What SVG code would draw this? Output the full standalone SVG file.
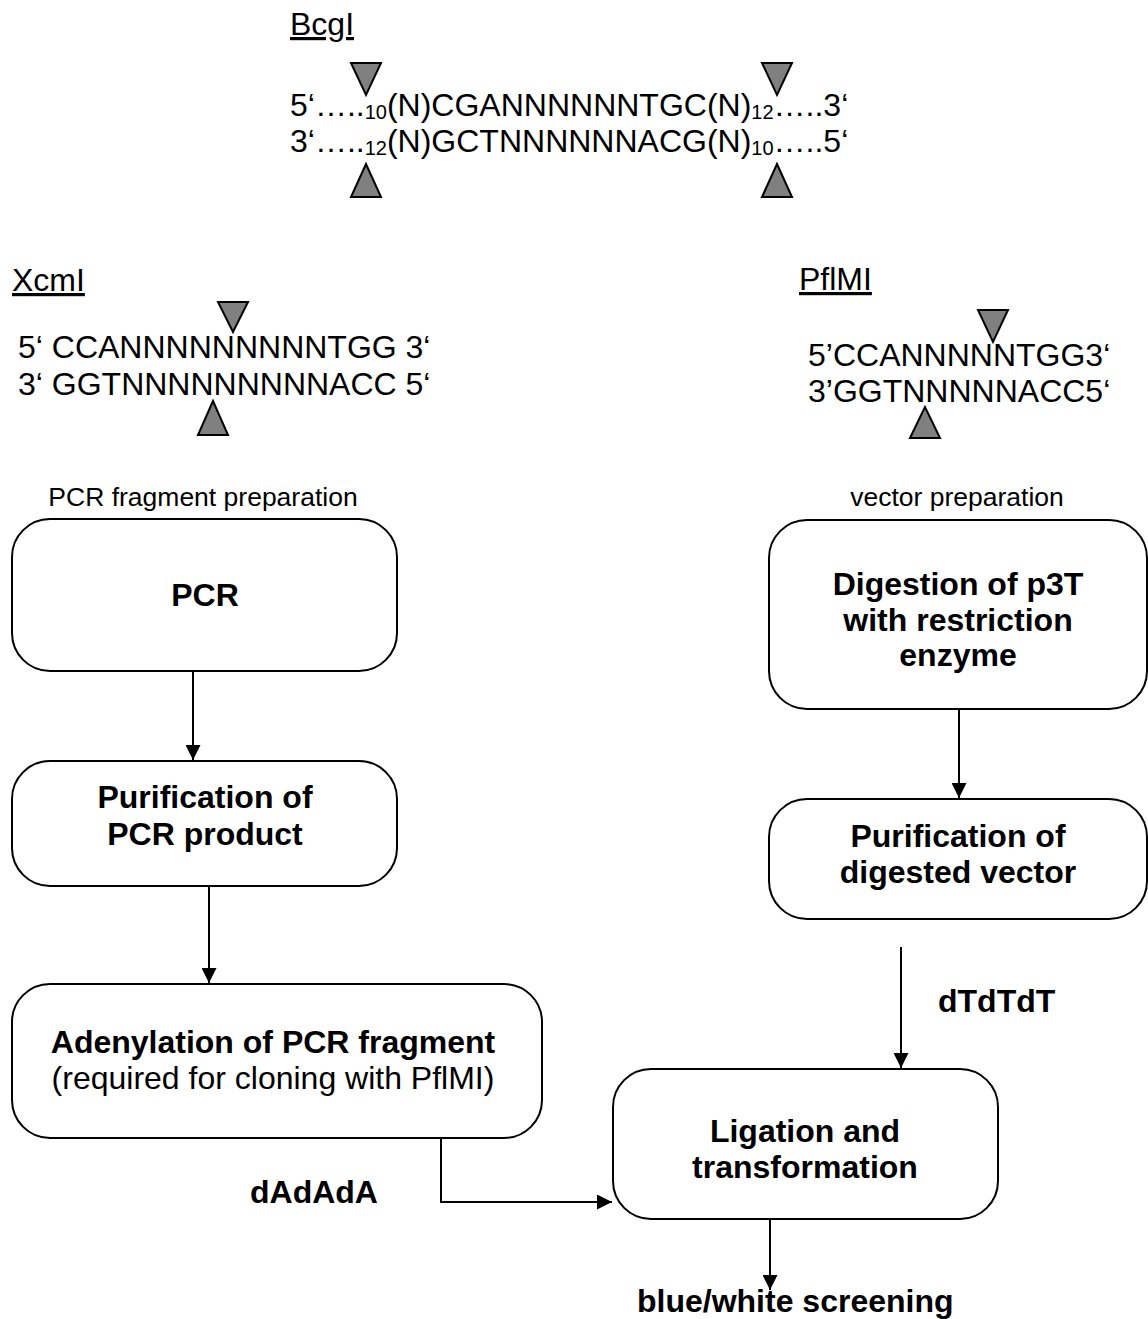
<svg xmlns="http://www.w3.org/2000/svg" width="1148" height="1319" viewBox="0 0 1148 1319">
<style>
text{font-family:"Liberation Sans",Arial,sans-serif;fill:#000}
.s{font-size:32px}
.b{font-size:32px;font-weight:bold}
.h{font-size:26.5px}
.u{text-decoration:underline}
.sub{font-size:20px}
.box{fill:#fff;stroke:#000;stroke-width:2}
.tri{fill:#808080;stroke:#000;stroke-width:2;stroke-linejoin:miter}
.conn{fill:none;stroke:#000;stroke-width:2}
</style>
<defs>
<marker id="ah" viewBox="0 0 10 10" refX="10" refY="5" markerWidth="7.5" markerHeight="7.5" markerUnits="strokeWidth" orient="auto">
<path d="M0,0 L10,5 L0,10 z" fill="#000"/>
</marker>
</defs>
<rect width="1148" height="1319" fill="#fff"/>

<g id="bcgi">
<text class="s u" x="290" y="35">BcgI</text>
<text class="s" x="290" y="116">5‘…..<tspan class="sub" dy="3">10</tspan><tspan dy="-3">(N)CGANNNNNNTGC(N)</tspan><tspan class="sub" dy="3">12</tspan><tspan dy="-3">…..3‘</tspan></text>
<text class="s" x="290" y="152">3‘…..<tspan class="sub" dy="3">12</tspan><tspan dy="-3">(N)GCTNNNNNNACG(N)</tspan><tspan class="sub" dy="3">10</tspan><tspan dy="-3">…..5‘</tspan></text>
<polygon class="tri" points="351,63 381,63 366,95"/>
<polygon class="tri" points="762,63 792,63 777,95"/>
<polygon class="tri" points="366,164 351,197 381,197"/>
<polygon class="tri" points="777,164 762,197 792,197"/>
</g>

<g id="xcmi">
<text class="s u" x="12" y="291">XcmI</text>
<text class="s" x="18" y="358">5‘ CCANNNNNNNNNTGG 3‘</text>
<text class="s" x="18" y="395">3‘ GGTNNNNNNNNNACC 5‘</text>
<polygon class="tri" points="218,302 248,302 233,332"/>
<polygon class="tri" points="213,401 198,435 228,435"/>
</g>

<g id="pflmi">
<text class="s u" x="799" y="290">PflMI</text>
<text class="s" x="808" y="366">5’CCANNNNNTGG3‘</text>
<text class="s" x="808" y="402">3’GGTNNNNNACC5‘</text>
<polygon class="tri" points="978,310 1008,310 993,342"/>
<polygon class="tri" points="925,407 910,438 940,438"/>
</g>

<text class="h" x="203" y="506" text-anchor="middle">PCR fragment preparation</text>
<text class="h" x="957" y="506" text-anchor="middle">vector preparation</text>

<g id="pcr">
<rect class="box" x="12" y="519" width="385" height="152" rx="38"/>
<text class="b" x="205" y="606" text-anchor="middle">PCR</text>
</g>

<g id="purif-pcr">
<rect class="box" x="12" y="761" width="385" height="125" rx="38"/>
<text class="b" x="205" y="808" text-anchor="middle">Purification of</text>
<text class="b" x="205" y="845" text-anchor="middle">PCR product</text>
</g>

<g id="adenylation">
<rect class="box" x="12" y="984" width="530" height="154" rx="38"/>
<text class="b" x="273" y="1053" text-anchor="middle">Adenylation of PCR fragment</text>
<text class="s" x="273" y="1089" text-anchor="middle">(required for cloning with PflMI)</text>
</g>

<g id="digestion">
<rect class="box" x="769" y="520" width="378" height="189" rx="38"/>
<text class="b" x="958" y="595" text-anchor="middle">Digestion of p3T</text>
<text class="b" x="958" y="631" text-anchor="middle">with restriction</text>
<text class="b" x="958" y="666" text-anchor="middle">enzyme</text>
</g>

<g id="purif-vec">
<rect class="box" x="769" y="799" width="378" height="120" rx="38"/>
<text class="b" x="958" y="847" text-anchor="middle">Purification of</text>
<text class="b" x="958" y="883" text-anchor="middle">digested vector</text>
</g>

<g id="ligation">
<rect class="box" x="613" y="1069" width="385" height="150" rx="38"/>
<text class="b" x="805" y="1142" text-anchor="middle">Ligation and</text>
<text class="b" x="805" y="1178" text-anchor="middle">transformation</text>
</g>

<g id="screening">
<text class="b" x="637" y="1312">blue/white screening</text>
</g>

<g id="connectors">
<path class="conn" d="M193,671 V760" marker-end="url(#ah)"/>
<path class="conn" d="M209,886 V983" marker-end="url(#ah)"/>
<path class="conn" d="M959,709 V798" marker-end="url(#ah)"/>
<path class="conn" d="M901,947 V1068" marker-end="url(#ah)"/>
<path class="conn" d="M441,1138 V1202 H612" marker-end="url(#ah)"/>
<path class="conn" d="M770,1219 V1290" marker-end="url(#ah)"/>
<text class="b" x="250" y="1203">dAdAdA</text>
<text class="b" x="938" y="1012">dTdTdT</text>
</g>
</svg>
